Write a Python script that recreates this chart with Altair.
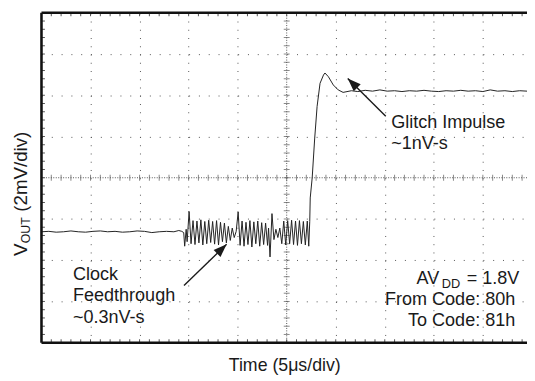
import altair as alt
import pandas as pd

# ---- waveform (time in divisions, voltage in divisions) ----
pre_t = [0.00, 0.15, 0.30, 0.45, 0.60, 0.75, 0.90, 1.05, 1.20, 1.35, 1.50, 1.65,
         1.80, 1.95, 2.10, 2.25, 2.40, 2.55, 2.70, 2.80, 2.86]
pre_v = [-1.31, -1.30, -1.32, -1.31, -1.29, -1.31, -1.32, -1.30, -1.29, -1.31, -1.30, -1.32,
         -1.31, -1.29, -1.30, -1.33, -1.31, -1.30, -1.31, -1.28, -1.30]

osc_t = [2.90, 2.92, 2.95, 2.97, 3.01, 3.05, 3.09, 3.13, 3.17, 3.21, 3.25, 3.29, 3.33,
         3.37, 3.41, 3.45, 3.49, 3.53, 3.57, 3.61, 3.65, 3.69, 3.73, 3.77, 3.81, 3.85,
         3.89, 3.93, 3.97, 4.01, 4.05, 4.09, 4.13, 4.17, 4.21, 4.25, 4.29, 4.33, 4.37,
         4.41, 4.45, 4.49, 4.53, 4.57, 4.61, 4.63, 4.66, 4.70, 4.74, 4.78, 4.82, 4.86,
         4.90, 4.94, 4.98, 5.02, 5.06, 5.10, 5.14, 5.18, 5.22, 5.26, 5.30, 5.34, 5.38,
         5.42, 5.45]
osc_v = [-1.33, -1.66, -1.25, -1.55, -0.82, -1.60, -1.04, -1.62, -1.05, -1.58, -1.02, -1.63, -1.06,
         -1.60, -1.03, -1.57, -1.06, -1.61, -1.04, -1.63, -1.08, -1.55, -1.10, -1.58, -1.18, -1.52,
         -1.22, -1.45, -1.30, -0.83, -1.64, -1.05, -1.66, -1.08, -1.62, -1.04, -1.68, -1.07, -1.60,
         -1.05, -1.66, -1.09, -1.62, -1.10, -1.64, -1.22, -1.92, -0.87, -1.50, -1.25, -1.45, -1.22,
         -1.60, -1.05, -1.63, -1.04, -1.60, -1.03, -1.62, -1.05, -1.64, -1.04, -1.60, -1.06, -1.63,
         -1.05, -1.66]

rise_t = [5.47, 5.48, 5.52, 5.57, 5.62, 5.68, 5.75, 5.78, 5.85, 5.95, 6.05, 6.15, 6.32]
rise_v = [-1.06, -0.49, 0.00, 0.94, 1.73, 2.29, 2.49, 2.54, 2.45, 2.25, 2.13, 2.07, 2.11]

post_t = [6.45, 6.60, 6.75, 6.90, 7.05, 7.20, 7.35, 7.50, 7.65, 7.80, 7.95, 8.10, 8.25,
          8.40, 8.55, 8.70, 8.85, 9.00, 9.15, 9.30, 9.45, 9.60, 9.75, 9.90]
post_v = [2.09, 2.12, 2.10, 2.13, 2.10, 2.11, 2.09, 2.11, 2.10, 2.12, 2.10, 2.09, 2.11,
          2.10, 2.12, 2.10, 2.11, 2.09, 2.13, 2.10, 2.11, 2.09, 2.11, 2.10]

# ---- grid / scope divisions ----
x_grid = [1, 2, 3, 4, 6, 7, 8, 9]
y_grid = [-3, -2, -1, 1, 2, 3]
x_minor = [i / 5 for i in range(1, 50)]
y_minor = [i / 5 - 4 for i in range(1, 40)]

FONT = "Liberation Sans"
INK = "#1a1a1a"
GRID = "#555"

t_all = pre_t + osc_t + rise_t + post_t
v_all = pre_v + osc_v + rise_v + post_v
wave = pd.DataFrame({"t": t_all, "v": v_all, "i": list(range(len(t_all)))})

XS = alt.Scale(domain=[0, 9.9], nice=False, zero=False)
YS = alt.Scale(domain=[-4, 4], nice=False, zero=False)

line = alt.Chart(wave).mark_line(color="#222", strokeWidth=1.0).encode(
    x=alt.X("t:Q", scale=XS,
            axis=alt.Axis(values=x_grid, grid=True, gridDash=[1, 7.375], gridColor=GRID,
                          gridWidth=1, labels=False, ticks=False, domain=False,
                          title="Time (5μs/div)", titleFont=FONT, titleFontSize=18,
                          titleFontWeight="normal", titleColor=INK, titlePadding=14)),
    y=alt.Y("v:Q", scale=YS,
            axis=alt.Axis(values=y_grid, grid=True, gridDash=[1, 8.96], gridColor=GRID,
                          gridWidth=1, labels=False, ticks=False, domain=False, title=None)),
    order="i:Q",
)

# centre cross lines (denser dots) with minor ticks
ch = alt.Chart(pd.DataFrame({"v": [0]})).mark_rule(color=GRID, strokeDash=[1, 1.5]).encode(
    y=alt.Y("v:Q", scale=YS))
cv = alt.Chart(pd.DataFrame({"t": [5]})).mark_rule(color=GRID, strokeDash=[1, 1.5]).encode(
    x=alt.X("t:Q", scale=XS))
ch_ticks = alt.Chart(pd.DataFrame({"t": x_minor})).mark_tick(
    orient="vertical", size=6, thickness=1, color=GRID).encode(
    x=alt.X("t:Q", scale=XS), y=alt.datum(0, scale=YS))
cv_ticks = alt.Chart(pd.DataFrame({"v": y_minor})).mark_tick(
    orient="horizontal", size=6, thickness=1, color=GRID).encode(
    y=alt.Y("v:Q", scale=YS), x=alt.datum(5, scale=XS))

# frame edge ticks
top_ticks = alt.Chart(pd.DataFrame({"t": x_minor})).mark_rule(color=GRID).encode(
    x=alt.X("t:Q", scale=XS), y=alt.value(0), y2=alt.value(3.5))
bot_ticks = alt.Chart(pd.DataFrame({"t": x_minor})).mark_rule(color=GRID).encode(
    x=alt.X("t:Q", scale=XS), y=alt.value(335), y2=alt.value(331.5))
left_ticks = alt.Chart(pd.DataFrame({"v": y_minor})).mark_rule(color=GRID).encode(
    y=alt.Y("v:Q", scale=YS), x=alt.value(0), x2=alt.value(3.5))

# frame
frame_h = alt.Chart(pd.DataFrame({"v": [-4, 4]})).mark_rule(color="#111", strokeWidth=2.6).encode(
    y=alt.Y("v:Q", scale=YS))
frame_v = alt.Chart(pd.DataFrame({"t": [0]})).mark_rule(color="#111", strokeWidth=2.6).encode(
    x=alt.X("t:Q", scale=XS))

# arrows
arrows = pd.DataFrame({
    "t": [7.02, 2.906], "v": [1.49, -2.615],
    "t2": [6.245, 3.775], "v2": [2.407, -1.612],
    "ang": [314.7, 45.9],
})
arrow_lines = alt.Chart(arrows).mark_rule(color=INK, strokeWidth=1.4).encode(
    x=alt.X("t:Q", scale=XS), y=alt.Y("v:Q", scale=YS), x2="t2:Q", y2="v2:Q")
arrow_heads = alt.Chart(arrows).mark_point(
    shape="M0,0L-0.37,1L0.37,1Z", filled=True, size=729, color=INK, opacity=1, strokeWidth=0).encode(
    x=alt.X("t2:Q", scale=XS), y=alt.Y("v2:Q", scale=YS), angle=alt.Angle("ang:Q", scale=None))


def txt(text, t, v, align="left", size=18.3):
    return alt.Chart(pd.DataFrame({"a": [0]})).mark_text(
        text=text, font=FONT, fontSize=size, color=INK, align=align, baseline="alphabetic").encode(
        x=alt.datum(t, scale=XS), y=alt.datum(v, scale=YS))


labels = [
    txt("Glitch Impulse", 7.13, 1.213),
    txt("~1nV-s", 7.13, 0.704),
    txt("Clock", 0.643, -2.472),
    txt("Feedthrough", 0.643, -2.997),
    txt("~0.3nV-s", 0.643, -3.522),
    txt("AV", 8.11, -2.567, align="right"),
    txt("DD", 8.16, -2.67, size=13),
    txt("= 1.8V", 8.67, -2.567),
    txt("From Code: 80h", 9.66, -3.085, align="right"),
    txt("To Code: 81h", 9.66, -3.594, align="right"),
]


def ytitle(text, px_y, px_x, size=19):
    return alt.Chart(pd.DataFrame({"a": [0]})).mark_text(
        text=text, font=FONT, fontSize=size, color=INK, align="left", baseline="alphabetic",
        angle=270).encode(x=alt.value(px_x), y=alt.value(px_y))


ytitles = [
    ytitle("V", 247, -15),
    ytitle("OUT", 234, -12, size=12.5),
    ytitle("(2mV/div)", 202, -15),
]

chart = alt.layer(
    ch, cv, ch_ticks, cv_ticks, top_ticks, bot_ticks, left_ticks,
    line, frame_h, frame_v, arrow_lines, arrow_heads, *labels, *ytitles,
).properties(
    width=493, height=335,
    autosize=alt.AutoSizeParams(type="none"),
    padding={"left": 34, "top": 2, "right": 0, "bottom": 34},
    background="white",
).configure_view(strokeWidth=0)

chart.save("out.html", embed_options={"renderer": "svg", "actions": False})
